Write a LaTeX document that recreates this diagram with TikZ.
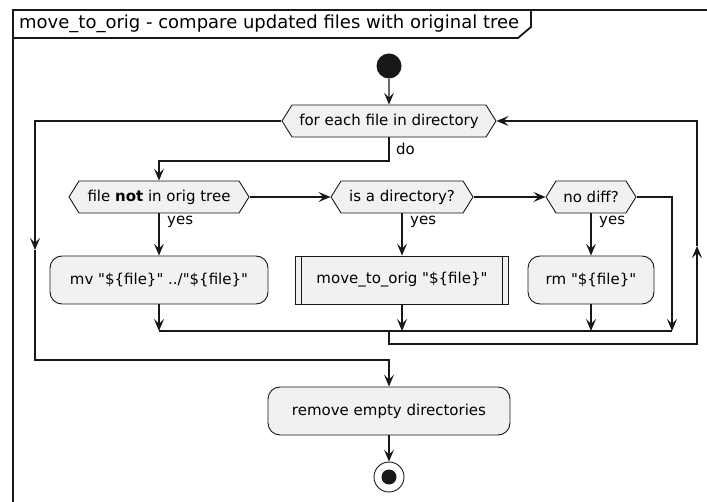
\documentclass[tikz,border=0pt]{standalone}
\usepackage{fontspec}
\setmainfont{DejaVu Sans}[Ligatures=TeXOff]
\usetikzlibrary{arrows.meta,shapes.symbols}

\definecolor{ink}{HTML}{181818}
\definecolor{boxfill}{HTML}{F1F1F1}

\begin{document}
\begin{tikzpicture}[x=1pt,y=-1pt,
  txt/.style={font=\fontsize{15}{18}\selectfont},
  conn/.style={draw=ink,line width=1.1pt},
  arr/.style={conn,-{Stealth[length=12pt,width=10pt,inset=5pt]}},
  hexa/.style={txt,shape=signal,signal to=west and east,signal pointer angle=116,
    draw=ink,fill=boxfill,line width=0.9pt,minimum height=32pt,inner sep=0pt},
  action/.style={txt,rectangle,rounded corners=12pt,draw=ink,fill=boxfill,
    line width=0.9pt,minimum height=48pt,inner sep=0pt},
  subproc/.style={txt,rectangle,draw=ink,fill=boxfill,line width=0.9pt,
    minimum height=48pt,inner sep=0pt},
  lbl/.style={txt,anchor=west,inner sep=0pt}]
\useasboundingbox (0,0) rectangle (707,502);

% outer frame and title tab
\draw[ink,line width=1.8pt] (13,10) rectangle (730,530);
\draw[ink,line width=1.8pt] (13,38) -- (518,38) -- (531,27) -- (531,10);
\node[font=\fontsize{18}{21}\selectfont,anchor=west,inner sep=0pt] (title) at (19,24)
  {move\_to\_orig - compare updated files with original tree};

% start / stop
\node[circle,fill=ink,minimum size=25pt,inner sep=0pt] (start) at (389,66) {};
\node[circle,draw=ink,line width=0.9pt,fill=white,minimum size=30pt,inner sep=0pt] (stop) at (389,477) {};
\fill[ink] (stop.center) circle (7.5pt);

% loop header and decisions
\node[hexa,minimum width=214pt] (loop) at (389,121) {for each file in directory};
\node[hexa,minimum width=180pt] (notorig) at (159,197) {file \textbf{not} in orig tree};
\node[hexa,minimum width=142pt] (isdir) at (402,197) {is a directory?};
\node[hexa,minimum width=90pt] (nodiff) at (591,197) {no diff?};

% actions
\node[action,minimum width=218pt] (mv) at (159,280) {mv "\$\{file\}" ../"\$\{file\}"};
\node[subproc,minimum width=213pt] (sub) at (402,280) {move\_to\_orig "\$\{file\}"};
\draw[ink,line width=0.9pt] ([xshift=6.5pt]sub.north west) -- ([xshift=6.5pt]sub.south west);
\draw[ink,line width=0.9pt] ([xshift=-6.5pt]sub.north east) -- ([xshift=-6.5pt]sub.south east);
\node[action,minimum width=126pt] (rm) at (591,280) {rm "\$\{file\}"};
\node[action,minimum width=242pt] (cleanup) at (389,411) {remove empty directories};

% routing points
\coordinate (doc) at (389,161);
\coordinate (dol) at (159,161);
\coordinate (ndr) at (672,197);
\coordinate (mrgl) at (159,331);
\coordinate (mrgm) at (389,331);
\coordinate (mrgs) at (402,331);
\coordinate (mrgr) at (591,331);
\coordinate (mrge) at (672,331);
\coordinate (backa) at (389,344);
\coordinate (backb) at (697,344);
\coordinate (backm) at (697,246);
\coordinate (backc) at (697,121);
\coordinate (exa) at (35,121);
\coordinate (exm) at (35,250);
\coordinate (exb) at (35,360);
\coordinate (exc) at (389,360);

% connectors
\draw[arr] (start) -- (loop);
\draw[arr] (loop.south) -- (doc) -- (dol) -- (notorig.north);
\node[lbl] (dolbl) at (396,149) {do};
\draw[arr] (notorig.east) -- (isdir.west);
\draw[arr] (isdir.east) -- (nodiff.west);
\draw[arr] (notorig.south) -- (mv.north);
\draw[arr] (isdir.south) -- (sub.north);
\draw[arr] (nodiff.south) -- (rm.north);
\node[lbl] (y1) at (167,222) {yes};
\node[lbl] (y2) at (410,222) {yes};
\node[lbl] (y3) at (599,222) {yes};
\draw[arr] (mv.south) -- (mrgl);
\draw[arr] (sub.south) -- (mrgs);
\draw[arr] (rm.south) -- (mrgr);
\draw[arr] (nodiff.east) -- (ndr) -- (mrge);
\draw[conn] (mrgl) -- (mrge);
\draw[arr] (mrgm) -- (backa) -- (backb) -- (backm);
\draw[arr] (backm) -- (backc) -- (loop.east);
\draw[arr] (loop.west) -- (exa) -- (exm);
\draw[arr] (exm) -- (exb) -- (exc) -- (cleanup.north);
\draw[arr] (cleanup) -- (stop);
\end{tikzpicture}
\end{document}
